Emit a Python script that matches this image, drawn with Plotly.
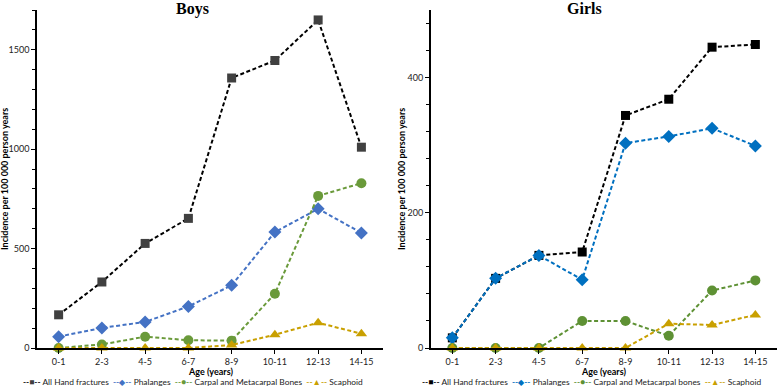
import plotly.graph_objects as go
from plotly.subplots import make_subplots

ages = ["0-1", "2-3", "4-5", "6-7", "8-9", "10-11", "12-13", "14-15"]

boys_all = [167, 332, 526, 652, 1358, 1446, 1650, 1010]
boys_phal = [57, 101, 131, 209, 315, 583, 700, 579]
boys_carpal = [0, 18, 57, 39, 37, 273, 765, 829]
boys_scaph = [0, 0, 0, 0, 15, 67, 127, 72]

girls_all = [15, 103, 137, 142, 344, 368, 445, 449]
girls_phal = [15, 103, 137, 101, 303, 313, 325, 299]
girls_carpal = [0, 0, 0, 40, 40, 18, 85, 100]
girls_scaph = [0, 0, 0, 0, 0, 36, 34, 49]

boys_names = ["All Hand fractures", "Phalanges", "Carpal and Metacarpal Bones", "Scaphoid"]
girls_names = ["All Hand fractures", "Phalanges", "Carpal and Metacarpal bones", "Scaphoid"]

boys_colors = ["#404040", "#4472C4", "#6A9A3A", "#C9A000"]
boys_line_colors = ["#000000", "#4472C4", "#6A9A3A", "#C9A000"]
girls_colors = ["#000000", "#0070C0", "#5E9134", "#C9A000"]
girls_line_colors = ["#000000", "#0070C0", "#5E9134", "#C9A000"]
symbols = ["square", "diamond", "circle", "triangle-up"]
glyphs = ["\u25A0", "\u25C6", "\u25CF", "\u25B2"]
sizes = [9, 10, 10, 10]

fig = make_subplots(rows=1, cols=2, horizontal_spacing=0.0)

font_family = "Lato, 'Open Sans', sans-serif"

for i, (vals, name) in enumerate(zip([boys_all, boys_phal, boys_carpal, boys_scaph], boys_names)):
    fig.add_trace(go.Scatter(
        x=ages, y=vals, name=name, mode="lines+markers",
        line=dict(color=boys_line_colors[i], width=2, dash="4px,2.5px"),
        marker=dict(symbol=symbols[i], size=sizes[i], color=boys_colors[i]),
        cliponaxis=False, showlegend=False,
    ), row=1, col=1)

for i, (vals, name) in enumerate(zip([girls_all, girls_phal, girls_carpal, girls_scaph], girls_names)):
    fig.add_trace(go.Scatter(
        x=ages, y=vals, name=name, mode="lines+markers",
        line=dict(color=girls_line_colors[i], width=2, dash="4px,2.5px"),
        marker=dict(symbol=symbols[i], size=sizes[i], color=girls_colors[i]),
        cliponaxis=False, showlegend=False,
    ), row=1, col=2)

d1 = [0, 0.4676]
d2 = [0.532, 1.0]

axis_common = dict(showline=True, linecolor="black", linewidth=1.5, showgrid=False,
                   zeroline=False, ticks="outside", ticklen=4, tickcolor="black",
                   automargin=False,
                   tickfont=dict(size=9, family=font_family, color="#222"))

fig.update_xaxes(type="category", domain=d1, range=[-0.5, 7.5], row=1, col=1, **axis_common)
fig.update_xaxes(type="category", domain=d2, range=[-0.5, 7.5], row=1, col=2, **axis_common)
fig.update_yaxes(range=[0, 1700], dtick=500, tick0=0,
                 minor=dict(dtick=100, ticks="outside", ticklen=3, tickcolor="black"),
                 row=1, col=1, **axis_common)
fig.update_yaxes(range=[0, 500], dtick=200, tick0=0,
                 minor=dict(dtick=40, ticks="outside", ticklen=3, tickcolor="black"),
                 row=1, col=2, **axis_common)


def legend_text(names, marker_colors, line_colors):
    parts = []
    for n, mc, lc, g in zip(names, marker_colors, line_colors, glyphs):
        parts.append(
            f"<span style='color:{lc}'><b>--</b></span>"
            f"<span style='color:{mc}'>{g}</span>"
            f"<span style='color:{lc}'><b>--</b></span> {n}"
        )
    return "\u2002".join(parts)


c1 = (d1[0] + d1[1]) / 2
c2 = (d2[0] + d2[1]) / 2
ann_font = dict(family=font_family, size=9, color="black")
leg_font = dict(family=font_family, size=8.4, color="#222")
common = dict(xref="paper", yref="paper", showarrow=False, xanchor="center", yanchor="middle")
annotations = [
    dict(text="<b>Boys</b>", x=0.2095, y=1.004, font=dict(family="Liberation Serif", size=16, color="black"), **common),
    dict(text="<b>Girls</b>", x=0.7405, y=1.004, font=dict(family="Liberation Serif", size=16, color="black"), **common),
    dict(text="<b>Age (years)</b>", x=c1, y=-0.071, font=ann_font, **common),
    dict(text="<b>Age (years)</b>", x=c2, y=-0.071, font=ann_font, **common),
    dict(text="<b>Incidence per 100 000 person years</b>", x=-0.0446, y=0.5, textangle=-90,
         font=ann_font, **common),
    dict(text="<b>Incidence per 100 000 person years</b>", x=0.4919, y=0.5, textangle=-90,
         font=ann_font, **common),
    dict(text=legend_text(boys_names, boys_colors, boys_line_colors), x=0.211, y=-0.1006,
         font=leg_font, **common),
    dict(text=legend_text(girls_names, girls_colors, girls_line_colors), x=0.749, y=-0.1006,
         font=leg_font, **common),
]

fig.update_layout(
    width=778, height=387,
    margin=dict(l=37, r=1, t=10, b=39),
    plot_bgcolor="white", paper_bgcolor="white",
    showlegend=False,
    annotations=annotations,
)

fig.write_html("out.html", config={"displayModeBar": False},
               post_script="document.body.style.margin='0';document.body.style.overflow='hidden';")
